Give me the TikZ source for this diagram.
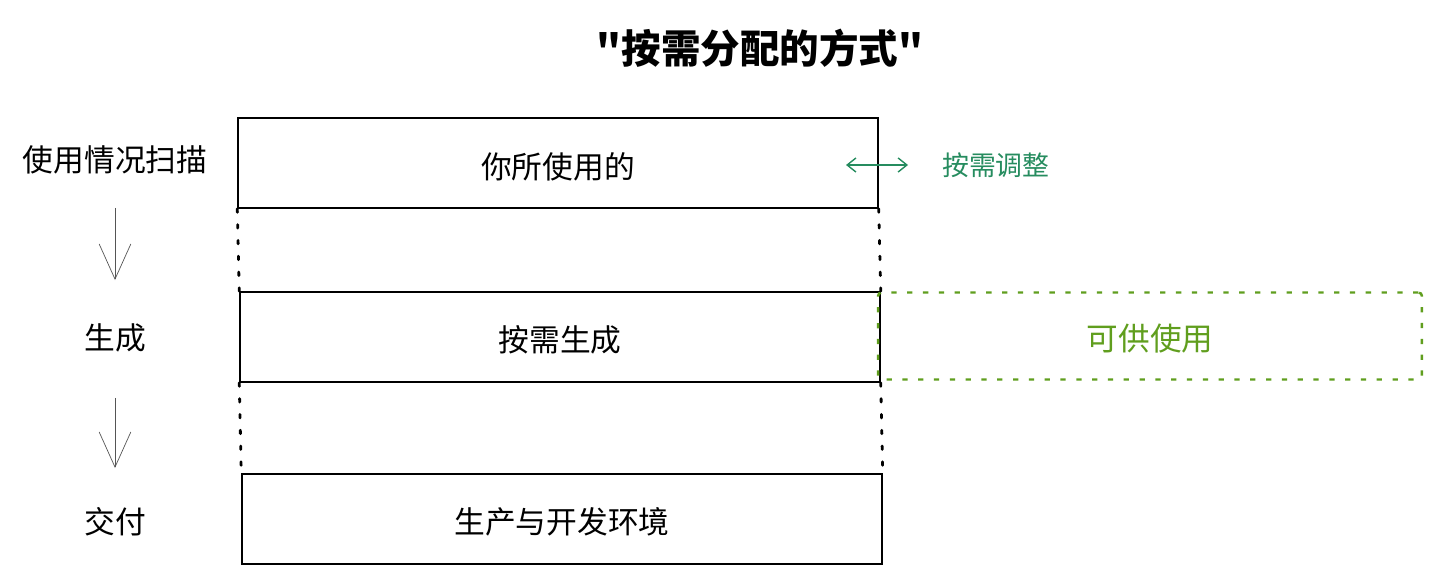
\documentclass[tikz,border=0pt]{standalone}
\usepackage{fontspec}
\newfontfamily\cjk{Noto Sans CJK SC}
\usepackage{tikz}
\usetikzlibrary{arrows.meta, positioning}
\definecolor{mintgreen}{RGB}{38,140,95}
\definecolor{leafgreen}{RGB}{96,158,30}
\definecolor{stepgray}{RGB}{85,85,85}

\begin{document}
\begin{tikzpicture}[x=0.02cm, y=-0.02cm, font=\cjk,
    stage/.style={draw, line width=0.9pt, minimum width=12.8cm, minimum height=1.8cm},
    boxtext/.style={font=\cjk\fontsize{17.5}{20}\selectfont},
    steplabel/.style={font=\cjk\fontsize{17.5}{20}\selectfont},
    flow/.style={stepgray, thin, -{Straight Barb[length=20pt, width=18pt]}},
    guide/.style={line width=1.6pt, line cap=round, dash pattern=on 2pt off 7pt}]
  \useasboundingbox (0,0) rectangle (1440,584);
  % title
  \node[font=\cjk\fontsize{22.5}{26}\bfseries\selectfont] (title) at (760,48) {"按需分配的方式"};
  % stages
  \node[stage, label={[boxtext, yshift=-2pt]center:你所使用的}] (usage) at (558,163) {};
  \node[stage, label={[boxtext, yshift=-1.5pt]center:按需生成}] (gen) at (560,337) {};
  \node[stage, label={[boxtext, yshift=-1.5pt]center:生产与开发环境}] (env) at (562,519) {};
  \node[draw, leafgreen, dash pattern=on 3pt off 6pt, line width=1.4pt, rounded corners=2pt,
        minimum width=10.88cm, minimum height=1.74cm,
        label={[leafgreen, font=\cjk\fontsize{18}{20}\selectfont, yshift=-1.5pt]center:可供使用}] (avail) at (1150,336) {};
  % dotted guides
  \draw[guide] (usage.south west) -- (gen.north west);
  \draw[guide] (usage.south east) -- (gen.north east);
  \draw[guide] (gen.south west) -- (env.north west);
  \draw[guide] (gen.south east) -- (env.north east);
  % left steps
  \node[steplabel] (scan) at (115,160) {使用情况扫描};
  \node[steplabel] (make) at (115,338) {生成};
  \node[steplabel] (deliver) at (115,522) {交付};
  \draw[flow, shorten <=0.96cm, shorten >=1.16cm] (scan.center) -- (make.center);
  \draw[flow, shorten <=1.2cm, shorten >=1.08cm] (make.center) -- (deliver.center);
  % adjust arrow
  \node[mintgreen, font=\cjk\fontsize{15.3}{18}\selectfont, anchor=west] (adjust) at (936,165) {按需调整};
  \coordinate (adjL) at (846,165);
  \coordinate (adjR) at (908,165);
  \draw[mintgreen, line width=0.8pt, {Straight Barb[length=5pt, width=8pt]}-{Straight Barb[length=5pt, width=8pt]}] (adjL) -- (adjR);
\end{tikzpicture}
\end{document}
